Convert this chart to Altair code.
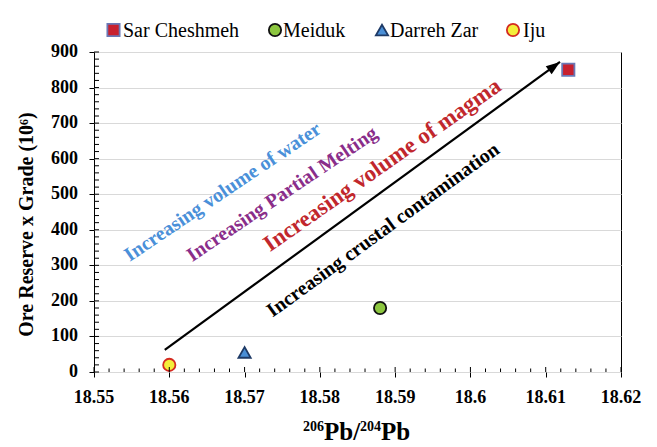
import altair as alt
import pandas as pd

# ---- data ----
sites = ["Sar Cheshmeh", "Meiduk", "Darreh Zar", "Iju"]
pb_ratio = [18.613, 18.588, 18.570, 18.560]
ore_grade = [850, 180, 55, 20]

x_tick_values = [18.55, 18.56, 18.57, 18.58, 18.59, 18.60, 18.61, 18.62]
y_tick_values = [0, 100, 200, 300, 400, 500, 600, 700, 800, 900]
x_minor_values = [round(18.55 + 0.002 * i, 3) for i in range(36) if i % 5 != 0]
y_minor_values = [20 * i for i in range(46) if i % 5 != 0]

arrow_x = [18.5594, 18.6119]
arrow_y = [62, 872]

ann_texts = ["Increasing volume of water", "Increasing Partial Melting",
             "Increasing volume of magma", "Increasing crustal contamination"]
ann_x = [18.5671, 18.5750, 18.5883, 18.5884]
ann_y = [506, 500, 582, 399]

# x-axis title pieces: 206Pb/204Pb
xtitle_parts = ["206", "Pb/", "204", "Pb"]

FONT = "Liberation Serif"
W, H = 527, 320
Y_TITLE = "Ore Reserve x Grade (10⁶)"

x_scale = alt.Scale(domain=[18.55, 18.62], nice=False, zero=False)
y_scale = alt.Scale(domain=[0, 900], nice=False, zero=True)

x_axis = alt.Axis(values=x_tick_values, grid=False, domain=False, labels=False,
                  tickSize=5, tickColor="black", title=None)
y_axis = alt.Axis(values=y_tick_values, grid=True, gridColor="#d9d9d9", gridWidth=1,
                  domain=False, labels=False, tickSize=5, tickColor="black",
                  titleFont=FONT, titleFontSize=20,
                  titleFontWeight="bold", titleColor="black", titleX=-58, titleY=172)


def X(field):
    return alt.X(field, scale=x_scale, axis=x_axis, title=None)


def Y(field):
    return alt.Y(field, scale=y_scale, axis=y_axis, title=Y_TITLE)


pts = pd.DataFrame({"site": sites, "x": pb_ratio, "y": ore_grade})

shape_range = ["square", "circle", "triangle-up", "circle"]
fill_range = ["#c8202e", "#8cc63f", "#4a8fd6", "#f4ee3a"]
stroke_range = ["#6a78b6", "#111111", "#1e3a66", "#d42a20"]

points = alt.Chart(pts).mark_point(filled=True, size=150, opacity=1, strokeWidth=1.8).encode(
    x=X("x:Q"),
    y=Y("y:Q"),
    shape=alt.Shape("site:N", scale=alt.Scale(domain=sites, range=shape_range), legend=None),
    fill=alt.Fill("site:N", scale=alt.Scale(domain=sites, range=fill_range), legend=None),
    stroke=alt.Stroke("site:N", scale=alt.Scale(domain=sites, range=stroke_range), legend=None),
)

# tick labels drawn from the tick arrays
xdf = pd.DataFrame({"v": x_tick_values})
ydf = pd.DataFrame({"v": y_tick_values})
xlabels = alt.Chart(xdf).mark_text(font=FONT, fontSize=18, fontWeight="bold", color="black",
                                   align="center", baseline="alphabetic").encode(
    x=X("v:Q"), y=alt.value(H + 30.5), text=alt.Text("v:Q", format=".2~f"))
ylabels = alt.Chart(ydf).mark_text(font=FONT, fontSize=18, fontWeight="bold", color="black",
                                   align="right", baseline="middle").encode(
    y=Y("v:Q"), x=alt.value(-16), text=alt.Text("v:Q", format="d"))

xmaj = alt.Chart(xdf).mark_rule(color="black", strokeWidth=1).encode(
    x=X("v:Q"), y=alt.value(H), y2=alt.value(H - 5))
xmin = alt.Chart(pd.DataFrame({"v": x_minor_values})).mark_rule(color="black", strokeWidth=1).encode(
    x=X("v:Q"), y=alt.value(H), y2=alt.value(H - 3.5))
ymaj = alt.Chart(ydf).mark_rule(color="black", strokeWidth=1).encode(
    y=Y("v:Q"), x=alt.value(0), x2=alt.value(5))
ymin = alt.Chart(pd.DataFrame({"v": y_minor_values})).mark_rule(color="black", strokeWidth=1).encode(
    y=Y("v:Q"), x=alt.value(0), x2=alt.value(5))

arrow_df = pd.DataFrame({"x": arrow_x, "y": arrow_y, "o": [0, 1]})
arrow_line = alt.Chart(arrow_df).mark_line(color="black", strokeWidth=2.2).encode(
    x=X("x:Q"), y=Y("y:Q"), order="o:Q")
arrow_head = alt.Chart(arrow_df.iloc[[1]]).mark_point(
    shape="M0,0 L-0.5,1.4 L0.5,1.4 Z", filled=True, color="black", size=400, angle=54, opacity=1
).encode(x=X("x:Q"), y=Y("y:Q"))

ann_styles = [("#4a90d9", 20, 326), ("#8a2d8a", 20, 326), ("#c1272d", 23, 325), ("black", 20, 324)]
ann_layers = []
for i, (col, fs, ang) in enumerate(ann_styles):
    d = pd.DataFrame({"t": [ann_texts[i]], "x": [ann_x[i]], "y": [ann_y[i]]})
    ann_layers.append(
        alt.Chart(d).mark_text(font=FONT, fontSize=fs, fontWeight="bold", color=col, angle=ang,
                               align="center", baseline="middle").encode(
            x=X("x:Q"), y=Y("y:Q"), text="t:N"))

# composed x-axis title (superscripts as smaller raised text)
xt_layout = [(209, 379, 14), (230, 388, 25), (266, 379, 14), (287, 388, 25)]
xt_layers = []
for part, (px, py, fs) in zip(xtitle_parts, xt_layout):
    xt_layers.append(
        alt.Chart(pd.DataFrame({"t": [part]})).mark_text(
            font=FONT, fontSize=fs, fontWeight="bold", color="black",
            align="left", baseline="alphabetic").encode(
            x=alt.value(px), y=alt.value(py), text="t:N"))

# legend row above the plot (symbol x, label x in plot pixels)
legend_layout = [(19.5, 29), (181, 189), (288, 296), (419, 429)]
legend_layers = []
for i, (sx, tx) in enumerate(legend_layout):
    d = pd.DataFrame({"site": [sites[i]]})
    legend_layers.append(
        alt.Chart(d).mark_point(filled=True, size=150, opacity=1, strokeWidth=1.8,
                                shape=shape_range[i], fill=fill_range[i],
                                stroke=stroke_range[i]).encode(
            x=alt.value(sx), y=alt.value(-22)))
    legend_layers.append(
        alt.Chart(d).mark_text(font=FONT, fontSize=20, color="black",
                               align="left", baseline="alphabetic").encode(
            x=alt.value(tx), y=alt.value(-15), text="site:N"))

chart = alt.layer(
    points, xmin, xmaj, ymin, ymaj, xlabels, ylabels, arrow_line, arrow_head,
    *ann_layers, *xt_layers, *legend_layers
).properties(
    width=W, height=H,
    autosize=alt.AutoSizeParams(type="none"),
    padding={"left": 94, "top": 52, "right": 36, "bottom": 75},
    background="white",
).configure_view(
    stroke="black", strokeWidth=1
)

chart.save("out.html", embed_options={"renderer": "svg", "actions": False})
